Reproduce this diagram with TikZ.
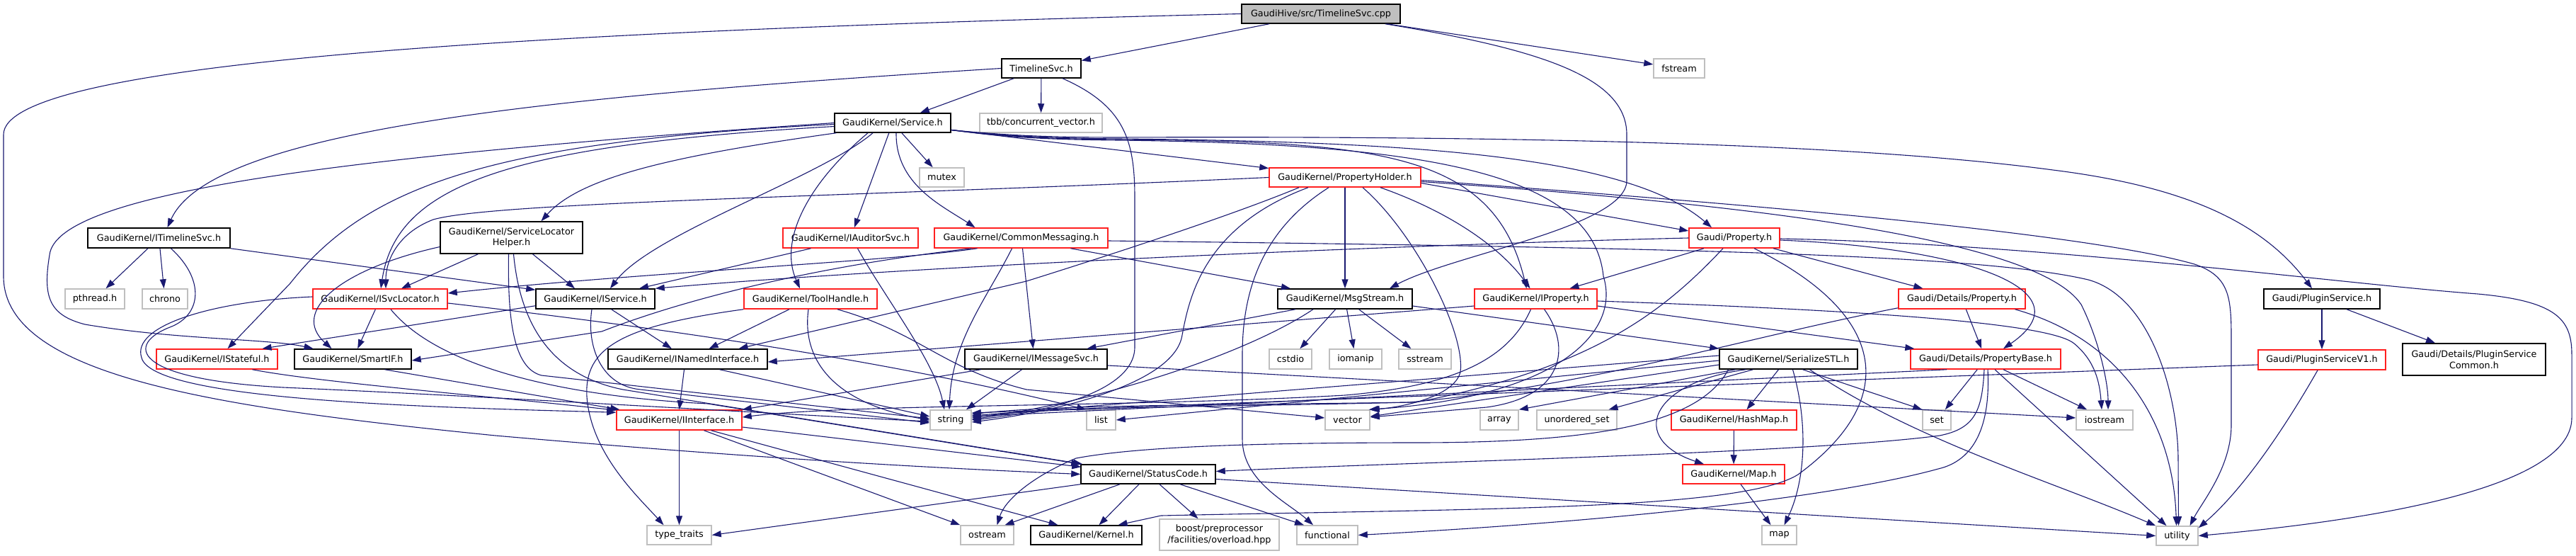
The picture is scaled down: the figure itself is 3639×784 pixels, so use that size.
\documentclass[tikz,border=0pt]{standalone}
\usepackage{fontspec}
\setmainfont{DejaVu Sans}
\usetikzlibrary{arrows.meta}
\definecolor{edgeblue}{HTML}{191970}
\definecolor{sysgray}{HTML}{BFBFBF}
\definecolor{trunc}{HTML}{FF2020}
\tikzset{
  hdr/.style={draw=black, line width=1.5pt, fill=white, inner sep=0pt,
    font=\fontsize{12.8pt}{15.5pt}\selectfont, align=center},
  hred/.style={hdr, draw=trunc},
  hsys/.style={hdr, draw=sysgray},
  hroot/.style={hdr, fill=sysgray},
  dep/.style={draw=edgeblue, line width=1.1pt, -{Triangle[length=13pt,width=9pt]}},
}
\begin{document}
\begin{tikzpicture}[x=1pt,y=-1pt]
\useasboundingbox (0,0) rectangle (3639,784);
% ---------------- nodes ----------------
\node[hroot, minimum width=224pt, minimum height=27pt] (cpp) at (1866,19.5) {GaudiHive/src/TimelineSvc.cpp};
\node[hdr, minimum width=112pt, minimum height=27pt] (tsh) at (1471,96.5) {TimelineSvc.h};
\node[hsys, minimum width=72pt, minimum height=27pt] (fstream) at (2372,96.5) {fstream};
\node[hdr, minimum width=164pt, minimum height=27pt] (svc) at (1261,173.5) {GaudiKernel/Service.h};
\node[hsys, minimum width=173pt, minimum height=27pt] (tbb) at (1470.5,173.5) {tbb/concurrent\_vector.h};
\node[hsys, minimum width=63pt, minimum height=27pt] (mutex) at (1330.5,250.5) {mutex};
\node[hred, minimum width=214pt, minimum height=27pt] (ph) at (1900,250.5) {GaudiKernel/PropertyHolder.h};
\node[hred, minimum width=128pt, minimum height=28pt] (prop) at (2450,336) {Gaudi/Property.h};
\node[hdr, minimum width=201pt, minimum height=28pt] (itl) at (224.5,336) {GaudiKernel/ITimelineSvc.h};
\node[hdr, minimum width=201pt, minimum height=45pt] (slh) at (722.5,335.5) {GaudiKernel/ServiceLocator\\Helper.h};
\node[hred, minimum width=191pt, minimum height=28pt] (aud) at (1201.5,336) {GaudiKernel/IAuditorSvc.h};
\node[hred, minimum width=245pt, minimum height=28pt] (cm) at (1442.5,336) {GaudiKernel/CommonMessaging.h};
\node[hdr, minimum width=164pt, minimum height=28pt] (plugin) at (3280,422) {Gaudi/PluginService.h};
\node[hsys, minimum width=84pt, minimum height=28pt] (pthread) at (134,422) {pthread.h};
\node[hsys, minimum width=64pt, minimum height=28pt] (chrono) at (233,422) {chrono};
\node[hred, minimum width=190pt, minimum height=28pt] (isl) at (537,422) {GaudiKernel/ISvcLocator.h};
\node[hdr, minimum width=168pt, minimum height=28pt] (isvc) at (841,422) {GaudiKernel/IService.h};
\node[hred, minimum width=188pt, minimum height=28pt] (th) at (1145,422) {GaudiKernel/ToolHandle.h};
\node[hdr, minimum width=190pt, minimum height=28pt] (msg) at (1900,422) {GaudiKernel/MsgStream.h};
\node[hred, minimum width=173pt, minimum height=28pt] (iprop) at (2169.5,422) {GaudiKernel/IProperty.h};
\node[hred, minimum width=179pt, minimum height=28pt] (dprop) at (2771.5,422) {Gaudi/Details/Property.h};
\node[hred, minimum width=171pt, minimum height=28pt] (ist) at (306.5,507) {GaudiKernel/IStateful.h};
\node[hdr, minimum width=165pt, minimum height=28pt] (smart) at (498.5,507) {GaudiKernel/SmartIF.h};
\node[hdr, minimum width=225pt, minimum height=28pt] (inamed) at (971.5,507) {GaudiKernel/INamedInterface.h};
\node[hdr, minimum width=201pt, minimum height=28pt] (imsg) at (1463.5,507) {GaudiKernel/IMessageSvc.h};
\node[hsys, minimum width=60pt, minimum height=28pt] (cstdio) at (1823,507) {cstdio};
\node[hsys, minimum width=74pt, minimum height=28pt] (iomanip) at (1915,507) {iomanip};
\node[hsys, minimum width=74pt, minimum height=28pt] (sstream) at (2013,507) {sstream};
\node[hdr, minimum width=195pt, minimum height=28pt] (ser) at (2526.5,507) {GaudiKernel/SerializeSTL.h};
\node[hred, minimum width=212pt, minimum height=28pt] (pbase) at (2805,507) {Gaudi/Details/PropertyBase.h};
\node[hred, minimum width=180pt, minimum height=28pt] (pv1) at (3280,508) {Gaudi/PluginServiceV1.h};
\node[hdr, minimum width=202pt, minimum height=45pt] (pcommon) at (3495,507.5) {Gaudi/Details/PluginService\\Common.h};
\node[hred, minimum width=177pt, minimum height=28pt] (iint) at (959.5,593) {GaudiKernel/IInterface.h};
\node[hsys, minimum width=58pt, minimum height=28pt] (string) at (1343,593) {string};
\node[hsys, minimum width=41pt, minimum height=28pt] (list) at (1555.5,593) {list};
\node[hsys, minimum width=63pt, minimum height=28pt] (vector) at (1903.5,593) {vector};
\node[hsys, minimum width=54pt, minimum height=28pt] (array) at (2118,593) {array};
\node[hsys, minimum width=113pt, minimum height=28pt] (uset) at (2227.5,593) {unordered\_set};
\node[hred, minimum width=177pt, minimum height=28pt] (hashmap) at (2449.5,593) {GaudiKernel/HashMap.h};
\node[hsys, minimum width=40pt, minimum height=28pt] (set) at (2736,593) {set};
\node[hsys, minimum width=80pt, minimum height=28pt] (iostream) at (2973,593) {iostream};
\node[hdr, minimum width=190pt, minimum height=27pt] (sc) at (1622,669.5) {GaudiKernel/StatusCode.h};
\node[hred, minimum width=144pt, minimum height=27pt] (maph) at (2449,669.5) {GaudiKernel/Map.h};
\node[hsys, minimum width=91pt, minimum height=27pt] (ttraits) at (959.5,755.5) {type\_traits};
\node[hsys, minimum width=75pt, minimum height=27pt] (ostream) at (1394.5,755.5) {ostream};
\node[hdr, minimum width=157pt, minimum height=27pt] (kernel) at (1534.5,755.5) {GaudiKernel/Kernel.h};
\node[hsys, minimum width=169pt, minimum height=44pt] (boost) at (1722.5,755) {boost/preprocessor\\/facilities/overload.hpp};
\node[hsys, minimum width=86pt, minimum height=27pt] (functional) at (1875,755.5) {functional};
\node[hsys, minimum width=49pt, minimum height=27pt] (map) at (2513.5,755.5) {map};
\node[hsys, minimum width=59pt, minimum height=27pt] (utility) at (3075.5,756.5) {utility};
% ---------------- edges ----------------
% TimelineSvc.cpp
\draw[dep] (cpp) -- (tsh);
\draw[dep] (cpp) -- (fstream);
\draw[dep] ([xshift=-22pt]cpp.south east) .. controls (2180,70) and (2298,110) .. (2298,190) -- (2298,255) .. controls (2298,320) and (2050,360) .. ([xshift=63pt]msg.north);
\draw[dep] (cpp.west) .. controls (700,45) and (5,90) .. (5,190) -- (5,390) .. controls (5,530) and (300,575) .. (700,615) .. controls (1100,650) and (1350,662) .. (sc.west);
% TimelineSvc.h
\draw[dep] (tsh) -- (svc);
\draw[dep] (tsh) -- (tbb);
\draw[dep] (tsh.west) .. controls (800,135) and (300,180) .. ([xshift=12pt]itl.north);
\draw[dep] ([xshift=30pt]tsh.south) .. controls (1590,150) and (1603,200) .. (1603,280) -- (1603,490) .. controls (1603,560) and (1450,585) .. (string.east);
% Service.h
\draw[dep] (svc) -- (mutex);
\draw[dep] (svc) -- (aud);
\draw[dep] ([xshift=5pt]svc.south) .. controls (1265,260) and (1330,290) .. ([xshift=-65pt]cm.north);
\draw[dep] (svc) -- (ph);
\draw[dep] ([xshift=-35pt]svc.south) .. controls (1140,260) and (1100,340) .. ([xshift=-15pt]th.north);
\draw[dep] (svc.west) .. controls (500,220) and (80,270) .. (70,360) .. controls (60,420) and (70,445) .. (120,458) .. controls (250,480) and (380,478) .. ([xshift=-56pt]smart.north);
\draw[dep] ([yshift=-2pt]svc.west) .. controls (700,200) and (520,260) .. (410,400) -- ([xshift=15pt]ist.north);
\draw[dep] ([yshift=-5pt]svc.west) .. controls (720,205) and (560,260) .. ([xshift=1pt]isl.north);
\draw[dep] ([xshift=3pt]svc.south west) .. controls (950,220) and (820,250) .. ([xshift=42pt]slh.north);
\draw[dep] ([xshift=-28pt]svc.south) .. controls (1160,250) and (920,330) .. ([xshift=21pt]isvc.north);
\draw[dep] ([yshift=-10pt]svc.east) .. controls (1420,192) and (1480,195) .. (1580,196) .. controls (2000,200) and (2300,220) .. ([xshift=-32pt]prop.north);
\draw[dep] ([yshift=-10pt]svc.east) .. controls (1420,193) and (1480,196) .. (1580,197) .. controls (1950,200) and (2110,215) .. ([xshift=-13pt]iprop.north);
\draw[dep] ([yshift=-10pt]svc.east) .. controls (1420,191) and (1480,194) .. (1580,194) .. controls (2100,192) and (2600,200) .. (2900,240) .. controls (3100,265) and (3200,320) .. ([xshift=-14pt]plugin.north);
\draw[dep] ([yshift=-10pt]svc.east) .. controls (1420,194) and (1480,197) .. (1580,198) .. controls (2000,203) and (2250,240) .. (2265,390) .. controls (2290,470) and (2200,560) .. ([xshift=-2pt]vector.north east);
% ITimelineSvc.h
\draw[dep] (itl) -- (pthread);
\draw[dep] (itl) -- (chrono);
\draw[dep] ([xshift=17pt]itl.south) .. controls (290,395) and (285,445) .. (240,462) .. controls (180,485) and (180,535) .. (400,547) .. controls (700,560) and (1100,585) .. ([yshift=-2pt]string.west);
\draw[dep] (itl.south east) -- ([yshift=-2pt]isvc.north west);
% ServiceLocatorHelper.h
\draw[dep] ([yshift=-13pt]slh.west) .. controls (480,380) and (410,440) .. ([xshift=-30pt]smart.north);
\draw[dep] ([xshift=-47pt]slh.south) -- ([xshift=30pt]isl.north);
\draw[dep] ([xshift=30pt]slh.south) -- ([xshift=-29pt]isvc.north);
\draw[dep] ([xshift=-4pt]slh.south) .. controls (717,450) and (725,520) .. (765,530) -- ([yshift=2pt]string.west);
\draw[dep] ([xshift=3pt]slh.south) .. controls (735,460) and (780,530) .. (880,550) -- ([xshift=3pt]sc.north west);
% ISvcLocator.h
\draw[dep] (isl) -- (smart);
\draw[dep] ([yshift=3pt]isl.west) .. controls (300,425) and (185,460) .. (200,505) .. controls (215,565) and (600,575) .. ([yshift=-4pt]iint.north west);
\draw[dep] ([yshift=-6pt]isl.east) .. controls (1000,470) and (1300,520) .. (list.north west);
\draw[dep] ([xshift=15pt]isl.south) .. controls (620,520) and (800,560) .. (1000,570) -- (sc.north west);
% IService.h
\draw[dep] (isvc) -- (inamed);
\draw[dep] ([yshift=5pt]isvc.south west) -- ([xshift=64pt]ist.north);
\draw[dep] ([xshift=-5pt]isvc.south) .. controls (828,490) and (850,545) .. (905,550) -- ([yshift=-4pt]string.west);
% ToolHandle.h
\draw[dep] (th) -- (inamed);
\draw[dep] ([xshift=-3pt]th.south) .. controls (1132,510) and (1180,570) .. (string.west);
\draw[dep] ([xshift=38pt]th.south) .. controls (1300,470) and (1330,520) .. (1450,550) -- ([yshift=3pt]vector.west);
\draw[dep] (th.south west) .. controls (880,460) and (825,490) .. (829,560) .. controls (835,640) and (900,700) .. ([xshift=-22pt]ttraits.north);
% PropertyHolder.h
\draw[dep] (ph.west) .. controls (1200,278) and (700,285) .. (612,310) .. controls (560,330) and (545,370) .. ([xshift=8pt]isl.north);
\draw[dep] ([xshift=-65pt]ph.south) .. controls (1750,300) and (1600,350) .. (1450,397) -- ([xshift=72pt]inamed.north);
\draw[dep] (ph) -- (msg);
\draw[dep] ([xshift=50pt]ph.south) .. controls (2050,300) and (2120,350) .. ([xshift=-8pt]iprop.north);
\draw[dep] ([yshift=-8pt]ph.east) -- ([yshift=10pt]prop.west);
\draw[dep] ([xshift=-52pt]ph.south) .. controls (1700,320) and (1680,420) .. (1670,473) .. controls (1660,540) and (1500,580) .. ([yshift=-3pt]string.east);
\draw[dep] ([xshift=-23pt]ph.south) .. controls (1790,320) and (1755,400) .. (1755,500) -- (1755,620) .. controls (1755,680) and (1820,710) .. ([xshift=-20pt]functional.north);
\draw[dep] ([xshift=25pt]ph.south) .. controls (2000,330) and (2070,470) .. (2063,525) .. controls (2055,560) and (1980,575) .. (vector.north east);
\draw[dep] ([yshift=-4pt]ph.east) .. controls (2500,290) and (2950,330) .. (3100,373) .. controls (3150,390) and (3152,420) .. (3152,480) -- (3152,600) .. controls (3152,660) and (3110,710) .. ([xshift=18pt]utility.north);
\draw[dep] ([yshift=-6pt]ph.east) .. controls (2500,290) and (2880,340) .. (2940,430) .. controls (2965,480) and (2978,540) .. ([xshift=5pt]iostream.north);
% Gaudi/Property.h
\draw[dep] ([xshift=-43pt]prop.south) -- ([xshift=48pt]iprop.north);
\draw[dep] ([xshift=-16pt]prop.south) .. controls (2350,440) and (2250,520) .. (2000,568) .. controls (1700,572) and (1480,572) .. ([yshift=8pt]string.east);
\draw[dep] ([xshift=28pt]prop.south) .. controls (2660,440) and (2690,560) .. (2540,670) .. controls (2460,720) and (2100,718) .. (1640,728) -- ([xshift=45pt]kernel.north);
\draw[dep] (prop) -- (dprop);
\draw[dep] ([yshift=-3pt]prop.east) .. controls (2780,350) and (2950,410) .. ([xshift=25pt]pbase.north);
\draw[dep] ([yshift=-1pt]prop.east) .. controls (2900,345) and (3300,400) .. (3500,415) .. controls (3610,425) and (3633,450) .. (3633,500) -- (3633,590) .. controls (3633,680) and (3400,730) .. (utility.east);
\draw[dep] (prop.west) .. controls (2000,345) and (1300,375) .. (isvc.north east);
% Gaudi/Details/Property.h
\draw[dep] (dprop) -- (pbase);
\draw[dep] ([yshift=2pt]dprop.south west) .. controls (2450,480) and (2250,545) .. (1990,568) .. controls (1700,575) and (1480,574) .. ([yshift=3pt]string.east);
\draw[dep] ([xshift=75pt]dprop.south) .. controls (3000,480) and (3070,600) .. ([xshift=-1pt]utility.north);
% SerializeSTL.h
\draw[dep] ([yshift=5pt]ser.west) -- ([yshift=6pt]string.east);
\draw[dep] ([yshift=-2pt]ser.west) -- (list.east);
\draw[dep] ([yshift=-8pt]ser.west) -- ([yshift=5pt]vector.east);
\draw[dep] ([xshift=-75pt]ser.south) -- (array.north east);
\draw[dep] ([xshift=-50pt]ser.south) -- ([xshift=45pt]uset.north);
\draw[dep] ([xshift=-14pt]ser.south) -- ([xshift=18pt]hashmap.north);
\draw[dep] ([xshift=-60pt]ser.south) .. controls (2330,540) and (2300,620) .. ([xshift=-42pt]maph.north);
\draw[dep] ([xshift=6pt]ser.south) .. controls (2555,600) and (2550,680) .. ([xshift=7pt]map.north);
\draw[dep] ([xshift=20pt]ser.south) -- (set.north west);
\draw[dep] ([xshift=30pt]ser.south) .. controls (2700,620) and (2900,680) .. (utility.north west);
\draw[dep] ([xshift=-85pt]ser.south) .. controls (2400,600) and (2250,625) .. (2000,625) .. controls (1750,625) and (1600,632) .. (1520,647) .. controls (1460,672) and (1420,705) .. ([xshift=14pt]ostream.north);
% Gaudi/Details/PropertyBase.h
\draw[dep] (pbase) -- (set);
\draw[dep] ([xshift=25pt]pbase.south) -- ([xshift=-25pt]iostream.north);
\draw[dep] ([xshift=13pt]pbase.south) -- ([xshift=-15pt]utility.north);
\draw[dep] ([xshift=-55pt]pbase.south) -- ([yshift=5pt]string.east);
\draw[dep] ([xshift=-2pt]pbase.south) .. controls (2800,580) and (2790,605) .. (2740,615) .. controls (2550,640) and (2000,652) .. ([yshift=4pt]sc.east);
\draw[dep] ([xshift=3pt]pbase.south) .. controls (2812,600) and (2790,650) .. (2738,662) .. controls (2600,700) and (2300,735) .. (functional.east);
% IProperty.h
\draw[dep] ([yshift=-10pt]iprop.west) -- ([yshift=-4pt]inamed.east);
\draw[dep] ([xshift=-7pt]iprop.south) .. controls (2130,510) and (2050,545) .. (1900,558) .. controls (1600,575) and (1200,570) .. ([yshift=4pt]iint.east);
\draw[dep] ([xshift=12pt]iprop.south) .. controls (2220,490) and (2210,560) .. (2100,575) -- ([yshift=4pt]vector.east);
\draw[dep] ([yshift=-3pt]iprop.east) .. controls (2700,440) and (2900,460) .. (2930,485) .. controls (2960,510) and (2966,540) .. ([xshift=-4pt]iostream.north);
\draw[dep] ([yshift=-10pt]iprop.east) -- ([xshift=6pt]pbase.north west);
% IInterface.h
\draw[dep] (iint) -- (ttraits);
\draw[dep] ([xshift=35pt]iint.south) -- (ostream.north west);
\draw[dep] ([xshift=45pt]iint.south) -- ([xshift=-40pt]kernel.north);
\draw[dep] ([yshift=-10pt]iint.east) -- ([xshift=1pt,yshift=-4pt]sc.north west);
% StatusCode.h
\draw[dep] (sc.south west) -- (ttraits.east);
\draw[dep] ([xshift=-40pt]sc.south) -- ([xshift=25pt]ostream.north);
\draw[dep] ([xshift=-13pt]sc.south) -- ([xshift=18pt]kernel.north);
\draw[dep] ([xshift=16pt]sc.south) -- ([xshift=-30pt]boost.north);
\draw[dep] ([xshift=45pt]sc.south) -- ([xshift=-33pt]functional.north);
\draw[dep] ([yshift=-7pt]sc.east) -- (utility.west);
% maps
\draw[dep] (hashmap) -- (maph);
\draw[dep] ([xshift=10pt]maph.south) -- ([xshift=-12pt]map.north);
% IStateful, SmartIF, INamedInterface, IMessageSvc
\draw[dep] ([xshift=50pt]ist.south) .. controls (450,540) and (700,560) .. ([yshift=-1pt]iint.north west);
\draw[dep] ([xshift=45pt]smart.south) -- ([xshift=5pt]iint.north west);
\draw[dep] ([xshift=-5pt]inamed.south) -- (iint.north);
\draw[dep] ([xshift=45pt]inamed.south) -- ([yshift=5pt]string.west);
\draw[dep] ([xshift=-78pt]imsg.south) -- (iint.north east);
\draw[dep] ([xshift=-20pt]imsg.south) -- ([xshift=22pt]string.north);
\draw[dep] ([yshift=-9pt]imsg.east) -- ([yshift=3pt]iostream.west);
% MsgStream.h
\draw[dep] ([xshift=-70pt]msg.south) -- ([xshift=72pt]imsg.north);
\draw[dep] (msg) -- (cstdio);
\draw[dep] (msg) -- (iomanip);
\draw[dep] (msg) -- (sstream);
\draw[dep] ([xshift=-45pt]msg.south) .. controls (1760,500) and (1560,565) .. ([yshift=1pt]string.east);
\draw[dep] ([yshift=-10pt]msg.east) -- (ser.north west);
% CommonMessaging.h
\draw[dep] ([xshift=-62pt]cm.south) .. controls (1250,370) and (900,385) .. ([yshift=8pt]isl.east);
\draw[dep] ([xshift=-70pt]cm.south) .. controls (1200,370) and (1000,410) .. (850,468) -- ([yshift=-2pt]smart.east);
\draw[dep] ([xshift=-13pt]cm.south) .. controls (1395,420) and (1345,480) .. ([xshift=-2pt]string.north);
\draw[dep] ([xshift=2pt]cm.south) -- ([xshift=-4pt]imsg.north);
\draw[dep] ([xshift=70pt]cm.south) -- ([xshift=-77pt]msg.north);
\draw[dep] ([yshift=-4pt]cm.east) .. controls (2400,350) and (2800,360) .. (2950,395) .. controls (3040,420) and (3077,560) .. (3077,650) -- ([xshift=2pt]utility.north);
% IAuditorSvc.h
\draw[dep] ([xshift=-56pt]aud.south) -- ([xshift=62pt]isvc.north);
\draw[dep] ([xshift=10pt]aud.south) .. controls (1250,420) and (1320,510) .. ([xshift=-9pt]string.north);
% PluginService
\draw[dep] (plugin) -- (pv1);
\draw[dep] ([xshift=35pt]plugin.south) -- ([xshift=-55pt]pcommon.north);
\draw[dep] ([xshift=-6pt]pv1.south) .. controls (3230,600) and (3170,690) .. ([yshift=-3pt]utility.north east);
\draw[dep] ([yshift=-7pt]pv1.west) -- ([yshift=10pt]string.east);
\end{tikzpicture}
\end{document}
